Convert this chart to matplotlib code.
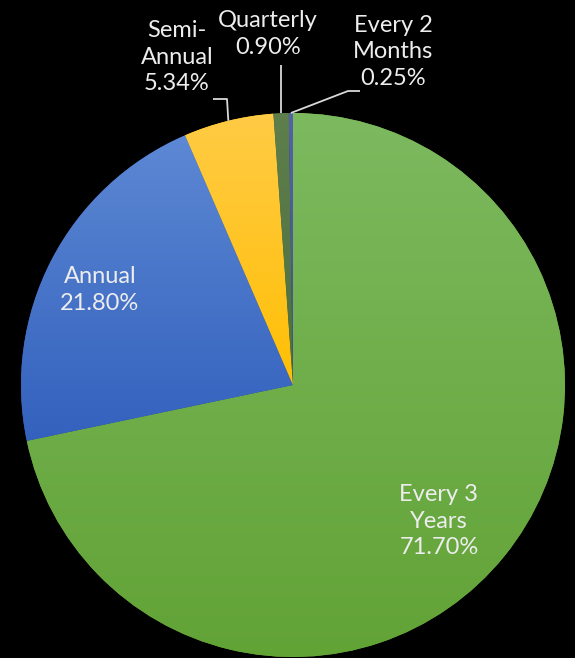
import numpy as np
import matplotlib
matplotlib.use("Agg")
import matplotlib.pyplot as plt
from matplotlib.colors import to_rgb

labels = ["Every 3\nYears", "Annual", "Semi-\nAnnual", "Quarterly", "Every 2\nMonths"]
shares = [71.70, 21.80, 5.34, 0.90, 0.25]
# gradient top / bottom colours, Excel style
top_cols = ["#7DB95F", "#5D88D4", "#FFCB45", "#5E7F4C", "#5264A3"]
bot_cols = ["#62A336", "#3361BD", "#FFBF05", "#4E7040", "#42548F"]

TXT = "#EDEDED"
plt.rcParams["font.family"] = ["Lato", "DejaVu Sans"]

fig = plt.figure(figsize=(5.75, 6.58), dpi=100, facecolor="black")
ax = fig.add_axes([0, 0, 1, 1])
ax.set_facecolor("black")

# pie centre at pixel (293, 385), radius 272 px
R = 272.0
cx, cy = 293.0, 385.0

def px(x, y):
    # pixel position -> data coords (layout helper for labels)
    return (x - cx) / R, (cy - y) / R

wedges, _ = ax.pie(shares, startangle=90, counterclock=False, radius=1,
                   colors=bot_cols, wedgeprops=dict(linewidth=0))

# vertical gradient fill in each slice
for w, ct, cb in zip(wedges, top_cols, bot_cols):
    ext = w.get_path().get_extents()
    t = np.linspace(0, 1, 256)[:, None, None]
    grad = (1 - t) * np.array(to_rgb(ct)) + t * np.array(to_rgb(cb))
    im = ax.imshow(grad, extent=(ext.x0, ext.x1, ext.y0, ext.y1),
                   origin="upper", aspect="auto", zorder=2, interpolation="bilinear")
    im.set_clip_path(w)
ax.set_xlim(-cx / R, (575 - cx) / R)
ax.set_ylim(-(658 - cy) / R, cy / R)
ax.axis("off")

def rim(w):
    a = np.deg2rad((w.theta1 + w.theta2) / 2)
    return np.cos(a), np.sin(a)

# label text positions (pixel layout)
text_pos = [(439, 521), (100, 290), (177, 57), (268, 34), (393, 52)]
for lab, val, (x, y) in zip(labels, shares, text_pos):
    tx, ty = px(x, y)
    ax.text(tx, ty, f"{lab}\n{val:.2f}%", ha="center", va="center",
            fontsize=17, color=TXT, linespacing=1.32, zorder=5)

# leader lines for the small slices
leaders = {
    2: [(213, 99), (227, 99)],
    3: [(282, 65)],
    4: [(360, 91), (348, 91)],
}
for i, pts in leaders.items():
    xs = [px(*p)[0] for p in pts]
    ys = [px(*p)[1] for p in pts]
    rx, ry = rim(wedges[i])
    if i == 3:
        xs[0] = rx
    xs.append(rx)
    ys.append(ry)
    ax.plot(xs, ys, color="#D9D9D9", lw=1.3, zorder=4, solid_capstyle="butt")

fig.savefig("out.png", dpi=100, facecolor="black")
